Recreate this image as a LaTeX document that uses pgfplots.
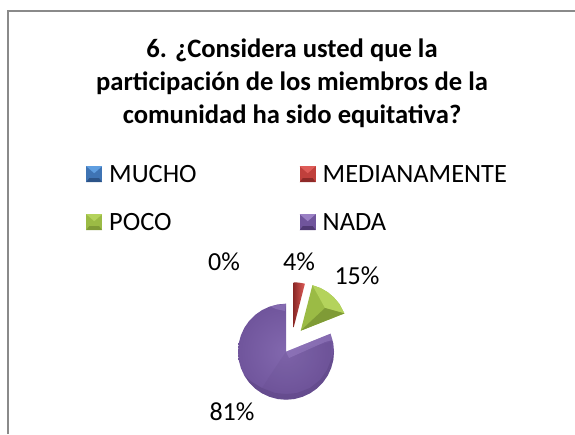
\documentclass[border=0pt]{standalone}
\usepackage{fontspec}
\setmainfont{Carlito}
\usepackage{pgfplots}
\pgfplotsset{compat=1.18}

\definecolor{framegray}{HTML}{8A8A8A}
\definecolor{purpleTop}{HTML}{8268AE}
\definecolor{purpleBot}{HTML}{70559C}
\definecolor{purpleLight}{HTML}{9A80C4}
\definecolor{purpleDeep}{HTML}{503A74}
\definecolor{greenMid}{HTML}{9BBB45}
\definecolor{greenLight}{HTML}{B4D35C}
\definecolor{greenDark}{HTML}{7F9B36}
\definecolor{redMid}{HTML}{C0403C}
\definecolor{redLight}{HTML}{DE5C58}
\definecolor{redDark}{HTML}{8E2A28}
\definecolor{blueMid}{HTML}{3F74B4}
\definecolor{blueLight}{HTML}{5F9EE0}
\definecolor{blueDark}{HTML}{2C5488}

% legend swatch: flat square with light top and dark bottom bevel
\pgfplotsset{
  swatch/.style n args={3}{
    legend image code/.code={
      \path[draw=none, fill=#1] (0pt,-6pt) rectangle (16pt,10pt);
      \path[draw=none, fill=#2] (0pt,10pt) -- (16pt,10pt) -- (8pt,3pt) -- cycle;
      \path[draw=none, fill=#3] (0pt,-6pt) -- (16pt,-6pt) -- (13pt,-2pt) -- (3pt,-2pt) -- cycle;
    }
  }
}

\begin{document}
\begin{tikzpicture}
\useasboundingbox (0,0) rectangle (575pt,434pt);
\begin{axis}[
    anchor=south west,
    at={(0,0)},
    scale only axis,
    width=575pt,
    height=434pt,
    xmin=0, xmax=575,
    ymin=0, ymax=434,
    y dir=reverse,
    hide axis,
    clip=false,
    legend columns=2,
    legend cell align=left,
    legend style={
        at={(axis cs:86,165)},
        anchor=north west,
        draw=none,
        fill=none,
        inner sep=0pt,
        font=\fontsize{26.4}{29}\selectfont,
        nodes={text height=17pt, text depth=5pt, inner xsep=7pt, inner ysep=0pt},
        /tikz/column 2/.style={column sep=96pt},
        row sep=26pt,
    },
]
% chart frame (only top and left edges are in view)
\addplot[forget plot, framegray, line width=2pt] coordinates {(7.5,434) (7.5,11) (575,11)};

% NADA 81%
\addplot[forget plot, draw=none, inner color=purpleTop, outer color=purpleBot] coordinates {
    (286,351.7) (330.5,333.7) (333.3,343.4) (334,351.7) (333.3,360) (331.1,368.1)
    (327.6,375.7) (322.8,382.6) (316.9,388.5) (310,393.3) (302.4,396.8) (294.3,399)
    (286,399.7) (277.7,399) (269.6,396.8) (262,393.3) (255.1,388.5) (249.2,382.6)
    (244.4,375.7) (240.9,368.1) (238.7,360) (238,351.7) (238.7,343.4) (240.9,335.3)
    (244.4,327.7) (249.2,320.8) (255.1,314.9) (262,310.1) (269.6,306.6) (277.7,304.4)
    (286,303.7)
} -- cycle;
% darker lower rim, soft crease, light bevels along the cut edges
\addplot[forget plot, draw=none, fill=purpleDeep, opacity=0.35] coordinates {
    (334,351.7) (333.3,360) (331.1,368.1) (327.6,375.7) (322.8,382.6) (316.9,388.5)
    (310,393.3) (302.4,396.8) (294.3,399) (286,399.7) (277.7,399) (269.6,396.8)
    (262,393.3) (255.1,388.5) (249.2,382.6) (244.4,375.7) (252,382) (262,388)
    (275,393) (286,394) (297,393) (310,388) (320,380) (327,370) (331,360)
} -- cycle;
\addplot[forget plot, draw=none, fill=purpleDeep, opacity=0.1] coordinates {
    (286,351.7) (331,342) (331,360) (327,370) (320,380) (310,388) (297,393)
    (286,394) (275,393) (262,388) (273,371)
} -- cycle;
\addplot[forget plot, draw=none, fill=purpleLight, opacity=0.5] coordinates {
    (286,303.7) (270,306.3) (276,309) (285,311)
} -- cycle;
\addplot[forget plot, draw=none, fill=purpleLight, opacity=0.5] coordinates {
    (330.5,333.7) (332.5,340) (325,342) (289,358) (286,351.7)
} -- cycle;

% POCO 15%
\addplot[forget plot, draw=none, fill=greenMid] coordinates {
    (300.7,330.7) (312.4,285.2) (320.6,288.1) (327.7,292.2) (333.9,297.5) (339.2,303.7) (344.4,313.4)
} -- cycle;
\addplot[forget plot, draw=none, fill=greenLight] coordinates {
    (312.4,285.2) (320.6,288.1) (327.7,292.2) (333.9,297.5) (339.2,303.7) (344.4,313.4) (325,308)
} -- cycle;
\addplot[forget plot, draw=none, fill=greenDark] coordinates {
    (300.7,330.7) (344.4,313.4) (325,308)
} -- cycle;

% MEDIANAMENTE 4%
\addplot[forget plot, draw=none, left color=redDark, right color=redLight] coordinates {
    (293.7,327.3) (293.7,282.3) (297.6,282.5) (301.5,283) (304.9,283.7)
} -- cycle;

\addlegendimage{swatch={blueMid}{blueLight}{blueDark}}
\addlegendentry{MUCHO}
\addlegendimage{swatch={redMid}{redLight}{redDark}}
\addlegendentry{MEDIANAMENTE}
\addlegendimage{swatch={greenMid}{greenLight}{greenDark}}
\addlegendentry{POCO}
\addlegendimage{swatch={purpleBot}{purpleLight}{purpleDeep}}
\addlegendentry{NADA}

\node[font=\fontsize{26.6}{33}\selectfont\bfseries, align=center, anchor=center] at (axis cs:292,83.5) {6. ¿Considera usted que la\\participación de los miembros de la\\comunidad ha sido equitativa?};

\node[font=\fontsize{26}{28}\selectfont] at (axis cs:224,262) {0\%};
\node[font=\fontsize{26}{28}\selectfont] at (axis cs:299,262) {4\%};
\node[font=\fontsize{26}{28}\selectfont] at (axis cs:357,276) {15\%};
\node[font=\fontsize{26}{28}\selectfont] at (axis cs:232,412) {81\%};
\end{axis}
\end{tikzpicture}
\end{document}
